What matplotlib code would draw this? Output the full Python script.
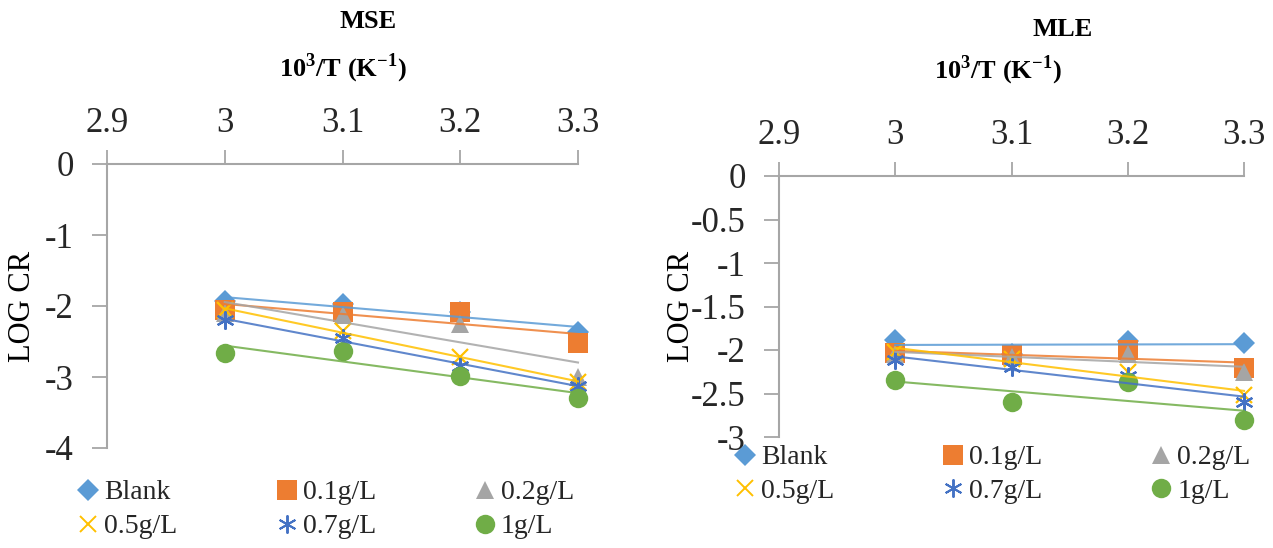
import numpy as np
import matplotlib
matplotlib.use('Agg')
import matplotlib.pyplot as plt
from matplotlib.lines import Line2D
from matplotlib.ticker import FuncFormatter

plt.rcParams['font.family'] = ['Liberation Serif', 'DejaVu Serif']
plt.rcParams['axes.unicode_minus'] = False
plt.rcParams['mathtext.fontset'] = 'custom'
plt.rcParams['mathtext.rm'] = 'Liberation Serif'
plt.rcParams['mathtext.bf'] = 'Liberation Serif:bold'

# 10^3/T values
temps = [3.0, 3.1, 3.2, 3.3]
labels = ['Blank', '0.1g/L', '0.2g/L', '0.5g/L', '0.7g/L', '1g/L']

# LOG CR
mse_blank = [-1.93, -1.97, -2.08, -2.36]
mse_01 = [-2.05, -2.08, -2.08, -2.52]
mse_02 = [-2.10, -2.12, -2.26, -3.00]
mse_05 = [-2.05, -2.35, -2.72, -3.07]
mse_07 = [-2.20, -2.45, -2.85, -3.12]
mse_1 = [-2.66, -2.64, -2.98, -3.29]

# LOG CR
mle_blank = [-1.88, -2.05, -1.90, -1.92]
mle_01 = [-2.04, -2.06, -2.00, -2.21]
mle_02 = [-2.05, -2.08, -2.05, -2.25]
mle_05 = [-2.02, -2.10, -2.25, -2.52]
mle_07 = [-2.12, -2.20, -2.30, -2.60]
mle_1 = [-2.35, -2.60, -2.37, -2.80]

colors = ['#5B9BD5', '#ED7D31', '#A5A5A5', '#FFC000', '#4472C4', '#70AD47']
markers = ['D', 's', '^', 'x', (6, 2, 0), 'o']
msizes = [11, 14, 13, 12, 13, 14]

AXC = '#A6A6A6'
TXT = '#262626'


def panel(ax, series, yticks, title, title_xy, xlab_xy, ylab_x):
    x = np.array(temps)
    for i, ys in enumerate(series):
        ax.plot(x, ys, linestyle='none', marker=markers[i], ms=msizes[i],
                color=colors[i], mew=1.6 if i in (3, 4) else 0, zorder=2 + i * 0.1,
                clip_on=False)
    # linear trend lines (excel style)
    for i, ys in enumerate(series):
        k, b = np.polyfit(x, ys, 1)
        ax.plot(x, k * x + b, color=colors[i], lw=1.5, alpha=0.85, zorder=4,
                clip_on=False)

    ax.set_xlim(2.9, 3.3)
    ax.set_ylim(yticks[-1], 0)
    ax.set_xticks([2.9, 3.0, 3.1, 3.2, 3.3])
    ax.set_yticks(yticks)
    fmt = FuncFormatter(lambda v, p: '%g' % round(v, 2))
    ax.xaxis.set_major_formatter(fmt)
    ax.yaxis.set_major_formatter(fmt)
    ax.xaxis.tick_top()
    for s in ['right', 'bottom']:
        ax.spines[s].set_visible(False)
    for s in ['top', 'left']:
        ax.spines[s].set_color(AXC)
        ax.spines[s].set_linewidth(1.5)
    ax.tick_params(axis='x', direction='out', length=10, width=1.3, color=AXC,
                   labelsize=25, labelcolor=TXT, pad=7)
    ax.tick_params(axis='y', direction='out', length=11, width=1.3, color=AXC,
                   labelsize=25, labelcolor=TXT, pad=13)

    ax.text(title_xy[0], title_xy[1], title, transform=ax.transAxes,
            ha='center', va='center', fontsize=19, fontweight='bold', color='black')
    ax.text(xlab_xy[0], xlab_xy[1], '10$^{\\mathbf{3}}$/T (K$^{\\mathbf{-1}}$)',
            transform=ax.transAxes, ha='center', va='center', fontsize=19,
            fontweight='bold', color='black')
    ax.text(ylab_x, 0.5, 'LOG CR', transform=ax.transAxes, rotation=90,
            ha='center', va='center', fontsize=22, color='black')


fig = plt.figure(figsize=(12.73, 5.48), dpi=100)
W, H = 1273, 548
ax1 = fig.add_axes([107 / W, (H - 448) / H, 471 / W, 284 / H])
ax2 = fig.add_axes([779 / W, (H - 437) / H, 465 / W, 261 / H])

panel(ax1, [mse_blank, mse_01, mse_02, mse_05, mse_07, mse_1],
      [0, -1, -2, -3, -4], 'MSE', (0.554, 1.50), (0.5, 1.338), -0.18)
panel(ax2, [mle_blank, mle_01, mle_02, mle_05, mle_07, mle_1],
      [0, -0.5, -1, -1.5, -2, -2.5, -3], 'MLE', (0.609, 1.56), (0.471, 1.406), -0.21)

# legends, rows: Blank 0.1 0.2 / 0.5 0.7 1
handles = [Line2D([], [], linestyle='none', marker=markers[i], ms=msizes[i],
                  color=colors[i], mew=1.4 if i in (3, 4) else 0) for i in range(6)]
order = [0, 3, 1, 4, 2, 5]
for anchor, cs in [((78 / W, 1 - 480 / H), 3.55), ((735 / W, 1 - 445 / H), 3.9)]:
    fig.legend([handles[j] for j in order], [labels[j] for j in order],
               loc='upper left', bbox_to_anchor=anchor, ncol=3, frameon=False,
               fontsize=20, handlelength=0.75, handletextpad=0.2,
               columnspacing=cs, labelspacing=0.3, borderpad=0,
               borderaxespad=0, labelcolor=TXT)

fig.savefig('out.png', dpi=100)
